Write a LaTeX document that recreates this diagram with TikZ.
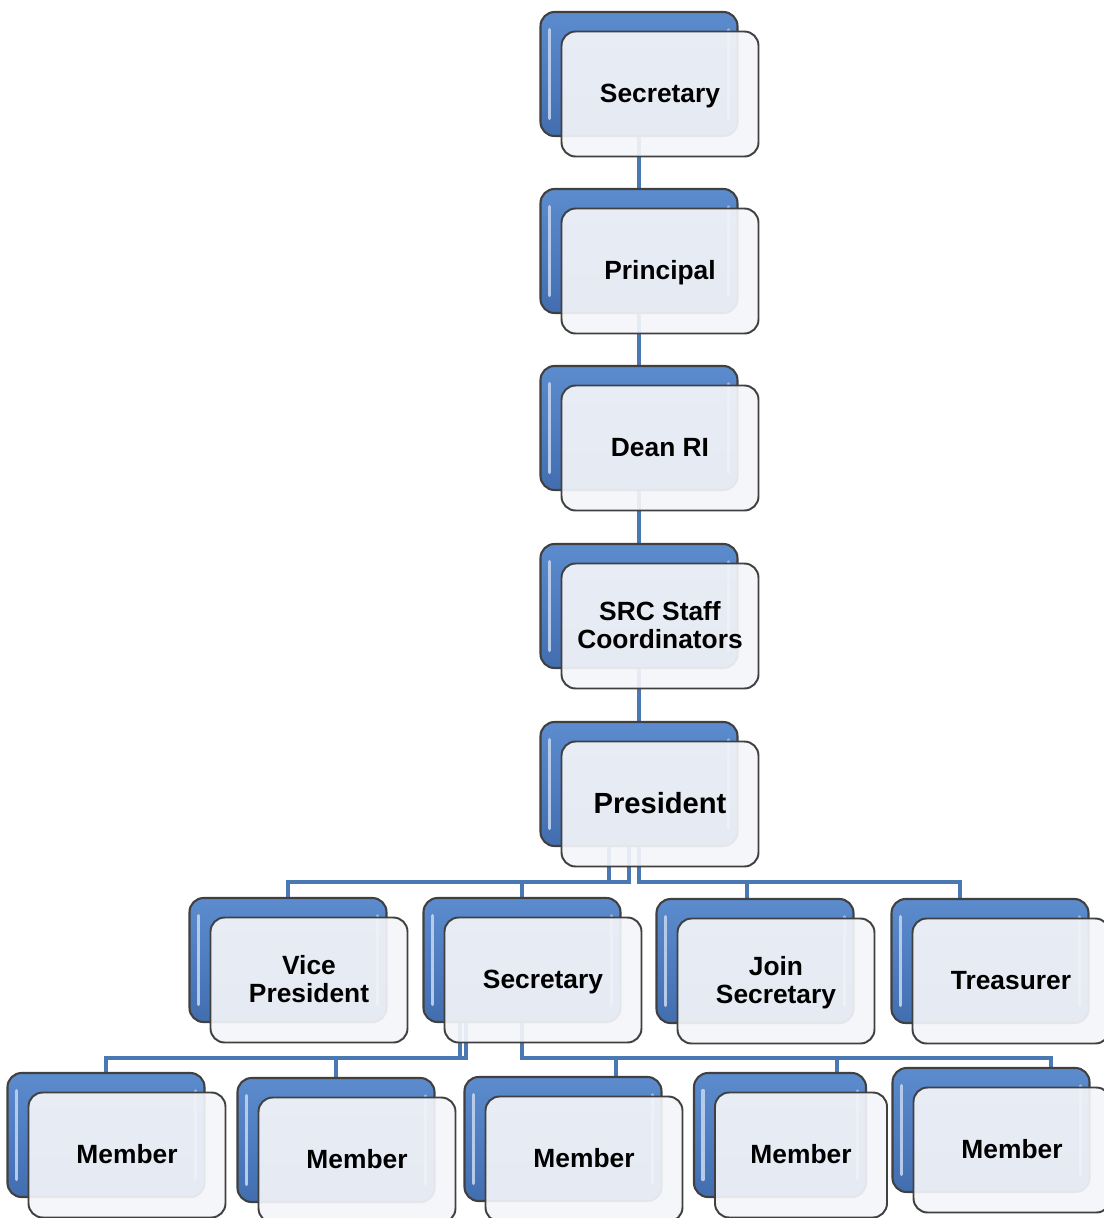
\documentclass[tikz,border=0pt]{standalone}
\usepackage{fontspec}
\setmainfont{Liberation Sans}
\usetikzlibrary{positioning,calc,backgrounds}
\definecolor{cardblue}{RGB}{92,140,206}
\definecolor{cardbluedark}{RGB}{66,110,176}
\definecolor{cardedge}{RGB}{64,64,64}
\definecolor{linkblue}{RGB}{74,120,178}
\tikzset{
  backbox/.style={draw=cardedge, line width=1.2pt, rounded corners=8pt,
    top color=cardblue, bottom color=cardbluedark,
    minimum width=3.94cm, minimum height=2.48cm, inner sep=0pt,
    path picture={
      \draw[white!55!cardblue, line width=2pt, line cap=round]
        ([xshift=5pt,yshift=-10pt]path picture bounding box.north west) --
        ([xshift=5pt,yshift=10pt]path picture bounding box.south west);
      \draw[white!40!cardblue, line width=1.5pt, line cap=round]
        ([xshift=-5pt,yshift=-10pt]path picture bounding box.north east) --
        ([xshift=-5pt,yshift=10pt]path picture bounding box.south east);
    }},
  frontbox/.style={draw=cardedge, line width=1.1pt, rounded corners=8pt,
    fill={rgb,255:red,244;green,245;blue,249}, fill opacity=0.92, text opacity=1,
    minimum width=3.94cm, minimum height=2.5cm, align=center, inner sep=2pt,
    text depth=1pt, font=\bfseries\fontsize{15}{16}\selectfont},
  link/.style={draw=linkblue, line width=2.5pt},
}
% one card: name, centre of the blue box, width, text
\newcommand{\orgcard}[4]{%
  \node[backbox, minimum width=#3] (#1-b) at #2 {};
  \node[frontbox, minimum width=#3] (#1-f) at ($(#1-b)+(21,20)$) {#4};
}

\begin{document}
\begin{tikzpicture}[x=0.02cm, y=-0.02cm]
  \useasboundingbox (0,0) rectangle (1103,1218);

  % main column
  \orgcard{top}{(639,74)}{3.94cm}{Secretary}
  \orgcard{prin}{(639,251)}{3.94cm}{Principal}
  \orgcard{dean}{(639,428)}{3.94cm}{Dean RI}
  \orgcard{src}{(639,606)}{3.94cm}{SRC Staff\\Coordinators}
  \orgcard{pres}{(639,784)}{3.94cm}{\fontsize{16.6}{18}\selectfont President}

  % office bearers
  \orgcard{vp}{(288,960)}{3.94cm}{Vice\\President}
  \orgcard{sec}{(522,960)}{3.94cm}{Secretary}
  \orgcard{join}{(755,961)}{3.94cm}{Join\\Secretary}
  \orgcard{treas}{(990,961)}{3.94cm}{Treasurer}

  % members
  \orgcard{m1}{(106,1135)}{3.94cm}{Member}
  \orgcard{m2}{(336,1140)}{3.94cm}{Member}
  \orgcard{m3}{(563,1139)}{3.94cm}{Member}
  \orgcard{m4}{(780,1135)}{3.44cm}{Member}
  \orgcard{m5}{(991,1130)}{3.94cm}{Member}

  \begin{pgfonlayer}{background}
    \foreach \a/\b in {top/prin, prin/dean, dean/src, src/pres}
      \draw[link] (\a-b.south) -- (\b-b.north);

    \draw[link] ($(pres-b.south)+(-30,0)$) -- ++(0,35) -| (vp-b.north);
    \draw[link] ($(pres-b.south)+(-10,0)$) -- ++(0,35) -| (sec-b.north);
    \draw[link] (pres-b.south) -- ++(0,35) -| ($(join-b.north)+(-8,0)$);
    \draw[link] (pres-b.south) -- ++(0,35) -| ($(treas-b.north)+(-30,0)$);

    \draw[link] ($(sec-b.south)+(-62,0)$) -- ++(0,35) -| (m1-b.north);
    \draw[link] ($(sec-b.south)+(-56,0)$) -- ++(0,35) -| (m2-b.north);
    \draw[link] (sec-b.south) -- ++(0,35) -| ($(m3-b.north)+(53,0)$);
    \draw[link] (sec-b.south) -- ++(0,35) -| ($(m4-b.north)+(57,0)$);
    \draw[link] (sec-b.south) -- ++(0,35) -| ($(m5-b.north)+(60,0)$);
  \end{pgfonlayer}

\end{tikzpicture}
\end{document}
